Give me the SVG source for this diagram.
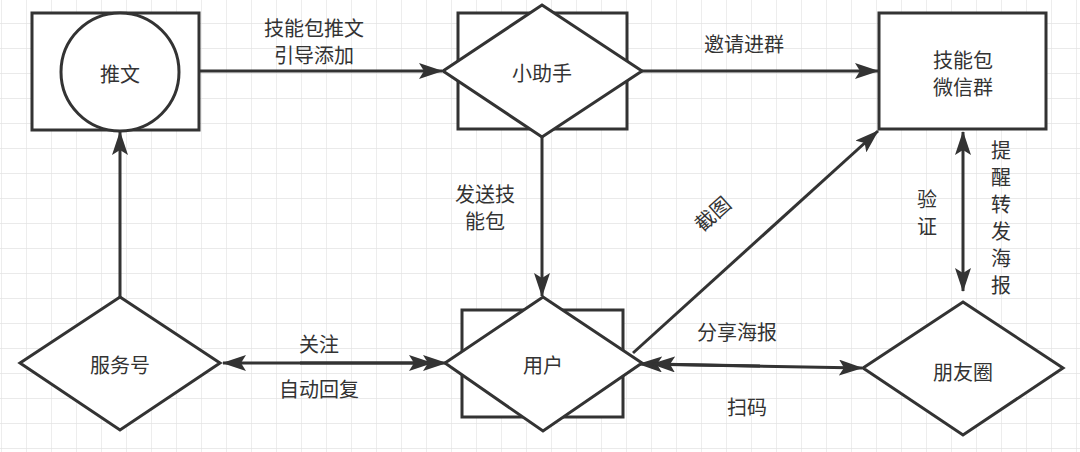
<svg xmlns="http://www.w3.org/2000/svg" width="1080" height="452" viewBox="0 0 1080 452">
<style>
.s{fill:#fff;stroke:#333;stroke-width:3}
.c{fill:none;stroke:#333;stroke-width:3}
.t{font-family:"Noto Sans CJK SC","Noto Sans",sans-serif;font-size:20px;fill:#333;text-anchor:middle;dominant-baseline:central}
</style>
<defs>
<pattern id="grid" x="1" y="23" width="25" height="25" patternUnits="userSpaceOnUse">
<path d="M0,0 H25 M0,0 V25" fill="none" stroke="#e3e3e3" stroke-width="1.3"/>
</pattern>
<marker id="ah" markerUnits="userSpaceOnUse" markerWidth="24" markerHeight="16" refX="23" refY="8" orient="auto-start-reverse" viewBox="0 0 24 16">
<path d="M0,0 L24,8 L0,16 L5,8 z" fill="#333"/>
</marker>
</defs>
<rect width="1080" height="452" fill="#fff"/>
<rect width="1080" height="452" fill="url(#grid)"/>

<g id="connectors">
<path class="c" d="M199,71 L442,71" marker-end="url(#ah)"/>
<path class="c" d="M642,71 L878,71" marker-end="url(#ah)"/>
<path class="c" d="M120,297 L120,132" marker-end="url(#ah)"/>
<path class="c" d="M542,137 L542,296" marker-end="url(#ah)"/>
<path class="c" d="M223,363 L432,363" marker-start="url(#ah)" marker-end="url(#ah)"/>
<path class="c" d="M300,363 L446,363" marker-end="url(#ah)"/>
<path class="c" d="M639,364 L862,368" marker-start="url(#ah)" marker-end="url(#ah)"/>
<path class="c" d="M760,366 L652,364" marker-end="url(#ah)"/>
<path class="c" d="M633,353 L878,131" marker-end="url(#ah)"/>
<path class="c" d="M963,132 L963,291" marker-start="url(#ah)" marker-end="url(#ah)"/>
<text class="t" x="314" y="27">技能包推文</text>
<text class="t" x="314" y="54">引导添加</text>
<text class="t" x="744" y="43">邀请进群</text>
<text class="t" x="485" y="193">发送技</text>
<text class="t" x="485" y="220">能包</text>
<text class="t" x="712" y="213" transform="rotate(-42 712 213)">截图</text>
<text class="t" x="319" y="343">关注</text>
<text class="t" x="319" y="388">自动回复</text>
<text class="t" x="737" y="331">分享海报</text>
<text class="t" x="747" y="406">扫码</text>
<text class="t"><tspan x="927" y="198">验</tspan><tspan x="927" y="225">证</tspan></text>
<text class="t"><tspan x="1001" y="149">提</tspan><tspan x="1001" y="176">醒</tspan><tspan x="1001" y="203">转</tspan><tspan x="1001" y="230">发</tspan><tspan x="1001" y="257">海</tspan><tspan x="1001" y="284">报</tspan></text>
</g>

<g id="node-tuiwen">
<rect class="s" x="32" y="13" width="167" height="117"/>
<circle class="s" cx="120" cy="72" r="59"/>
<text class="t" x="120" y="73">推文</text>
</g>
<g id="node-xiaozhushou">
<rect class="s" x="458" y="13" width="169" height="116"/>
<polygon class="s" points="542,5 642,71 542,137 443,71"/>
<text class="t" x="542" y="72">小助手</text>
</g>
<g id="node-weixinqun">
<rect class="s" x="879" y="13" width="167" height="116"/>
<text class="t" x="963" y="59">技能包</text>
<text class="t" x="963" y="86">微信群</text>
</g>
<g id="node-fuwuhao">
<polygon class="s" points="120,297 220,363 120,430 20,363"/>
<text class="t" x="120" y="364">服务号</text>
</g>
<g id="node-yonghu">
<rect class="s" x="462" y="310" width="161" height="107"/>
<polygon class="s" points="543,297 642,363 543,431 445,363"/>
<text class="t" x="543" y="364">用户</text>
</g>
<g id="node-pengyouquan">
<polygon class="s" points="963,302 1063,368 963,435 863,368"/>
<text class="t" x="963" y="371">朋友圈</text>
</g>
</svg>
